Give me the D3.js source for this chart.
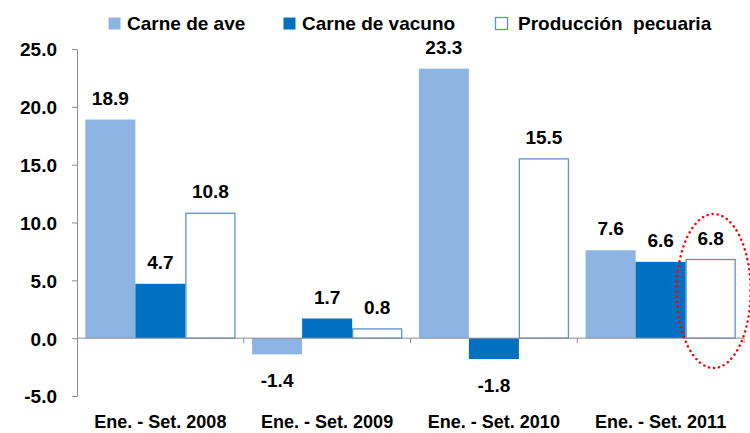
<!DOCTYPE html>
<html>
<head>
<meta charset="utf-8">
<script src="https://cdn.jsdelivr.net/npm/d3@7"></script>
<style>
  body { margin: 0; background: #fff; }
  text { font-family: "Liberation Sans", Arial, sans-serif; font-weight: bold; fill: #000; }
</style>
</head>
<body>
<div id="chart-area"></div>
<script>
// Datos del gráfico
var categories = ["Ene. - Set. 2008", "Ene. - Set. 2009", "Ene. - Set. 2010", "Ene. - Set. 2011"];
var series = ["Carne de ave", "Carne de vacuno", "Producción  pecuaria"];
var carneAve = [18.9, -1.4, 23.3, 7.6];
var carneVacuno = [4.7, 1.7, -1.8, 6.6];
var produccion = [10.8, 0.8, 15.5, 6.8];
var yTicks = [-5, 0, 5, 10, 15, 20, 25];

(function() {
    var values = [carneAve, carneVacuno, produccion];
    var fills = ["#8db4e2", "#0070c0", "#ffffff"];
    var strokes = ["none", "none", "#5b8fcf"];

    // formato con guion normal para los negativos
    var fmt = d3.formatLocale({ decimal: ".", thousands: ",", grouping: [3], currency: ["", ""], minus: "-" }).format(".1f");

    var width = 750, height = 433;
    var mLeft = 77, mRight = 744, yTop = 49, yBottom = 396;

    var svg = d3.select("#chart-area").append("svg")
        .attr("width", width)
        .attr("height", height);

    var x0 = d3.scaleBand().domain(categories).range([mLeft, mRight]).paddingInner(0.1).paddingOuter(0.05);
    var x1 = d3.scaleBand().domain(d3.range(series.length)).range([0, x0.bandwidth()]);
    var y = d3.scaleLinear().domain([-5, 25]).range([yBottom, yTop]);

    // Eje Y
    var yAxis = svg.append("g")
        .attr("transform", "translate(" + mLeft + ",0)")
        .call(d3.axisLeft(y).tickValues(yTicks).tickSize(5).tickSizeOuter(0).tickPadding(15).tickFormat(fmt));
    yAxis.selectAll("path, line").attr("stroke", "#8c8c8c");
    yAxis.selectAll("text").style("font-size", "19px").attr("font-family", null).attr("dy", "0.36em");

    // Barras
    var groups = svg.selectAll(".grupo")
        .data(categories)
        .enter()
        .append("g")
            .attr("class", "grupo")
            .attr("transform", (d) => "translate(" + x0(d) + ",0)");

    groups.selectAll("rect")
        .data((d, i) => values.map((v, s) => ({ s: s, v: v[i] })))
        .enter()
        .append("rect")
            .attr("x", (d) => x1(d.s) + (d.s == 2 ? 0.5 : 0))
            .attr("y", (d) => y(Math.max(0, d.v)))
            .attr("width", (d) => x1.bandwidth() - (d.s == 2 ? 1 : 0))
            .attr("height", (d) => Math.abs(y(d.v) - y(0)))
            .attr("fill", (d) => fills[d.s])
            .attr("stroke", (d) => strokes[d.s])
            .attr("stroke-width", 1.3);

    groups.selectAll(".valor")
        .data((d, i) => values.map((v, s) => ({ s: s, v: v[i] })))
        .enter()
        .append("text")
            .attr("class", "valor")
            .attr("x", (d) => x1(d.s) + x1.bandwidth() / 2)
            .attr("y", (d) => d.v >= 0 ? y(d.v) - 15 : y(d.v) + 33)
            .attr("text-anchor", "middle")
            .style("font-size", "19px")
            .text((d) => fmt(d.v));

    // Eje X en cero
    var xAxis = svg.append("g")
        .attr("transform", "translate(0," + y(0) + ")");
    xAxis.append("line")
        .attr("x1", mLeft).attr("x2", mRight)
        .attr("stroke", "#8c8c8c");
    xAxis.selectAll(".tick")
        .data(categories)
        .enter()
        .append("line")
            .attr("x1", (d) => x0(d) + x0.bandwidth() + x0.step() * x0.paddingInner() / 2)
            .attr("x2", (d) => x0(d) + x0.bandwidth() + x0.step() * x0.paddingInner() / 2)
            .attr("y1", 0).attr("y2", 5)
            .attr("stroke", "#8c8c8c");

    // Etiquetas de categorías
    svg.selectAll(".cat")
        .data(categories)
        .enter()
        .append("text")
            .attr("class", "cat")
            .attr("x", (d) => x0(d) + x0.bandwidth() / 2)
            .attr("y", 428)
            .attr("text-anchor", "middle")
            .style("font-size", "18px")
            .text((d) => d);

    // Leyenda
    var legendX = [108, 283, 495];
    var legend = svg.selectAll(".leyenda")
        .data(series)
        .enter()
        .append("g")
            .attr("class", "leyenda")
            .attr("transform", (d, i) => "translate(" + legendX[i] + ",17)");
    legend.append("rect")
        .attr("x", 0.5).attr("y", 0.5)
        .attr("width", 12).attr("height", 12)
        .attr("fill", (d, i) => fills[i])
        .attr("stroke", (d, i) => strokes[i])
        .attr("stroke-width", 1.3);
    legend.append("text")
        .attr("x", (d, i) => i == 2 ? 23 : 19).attr("y", 13)
        .style("font-size", "19px")
        .style("white-space", "pre")
        .text((d) => d);

    // Elipse punteada roja
    var last = categories[3];
    svg.append("ellipse")
        .attr("cx", x0(last) + x1(2) + x1.bandwidth() / 2 + 3)
        .attr("cy", 291)
        .attr("rx", 37)
        .attr("ry", 77)
        .attr("fill", "none")
        .attr("stroke", "#ff0000")
        .attr("stroke-width", 2.5)
        .attr("stroke-dasharray", "0.1 5")
        .attr("stroke-linecap", "round");
})();
</script>
</body>
</html>
